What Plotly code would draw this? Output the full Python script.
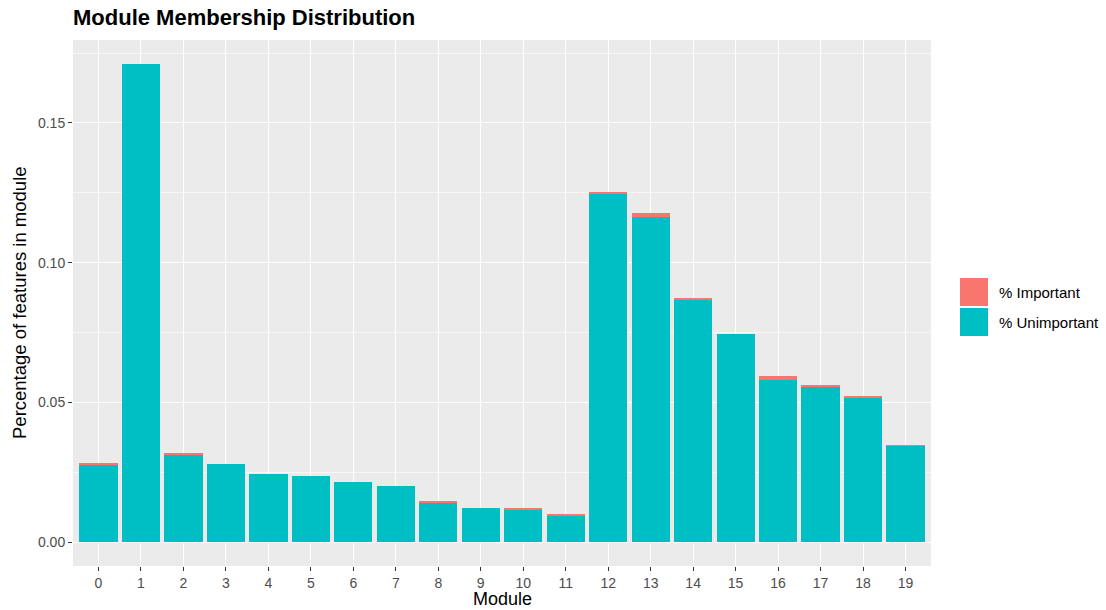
import plotly.graph_objects as go

modules = [str(i) for i in range(20)]
total = [0.0284, 0.1711, 0.0316, 0.0281, 0.0245, 0.0238, 0.0216, 0.0202, 0.0148, 0.0123,
         0.0120, 0.0098, 0.1251, 0.1178, 0.0871, 0.0745, 0.0595, 0.0563, 0.0520, 0.0345]
important = [0.0005, 0.0, 0.0002, 0.0, 0.0, 0.0, 0.0, 0.0, 0.0005, 0.0,
             0.0004, 0.0004, 0.0005, 0.0013, 0.0004, 0.0, 0.0014, 0.0005, 0.0004, 0.0001]
unimportant = [round(t - i, 5) for t, i in zip(total, important)]

RED = "#F8766D"
TEAL = "#00BFC4"
FONT = "Liberation Sans, Arial, sans-serif"

W, H = 1106, 610
ML, MR, MT, MB = 73, 175, 40, 44
PW, PH = W - ML - MR, H - MT - MB

fig = go.Figure()
fig.add_bar(x=modules, y=unimportant, name="% Unimportant", marker_color=TEAL,
            marker_line_width=0, width=0.9, showlegend=False)
fig.add_bar(x=modules, y=important, name="% Important", marker_color=RED,
            marker_line_width=0, width=0.9, showlegend=False)

ymax = max(total)
fig.update_layout(
    barmode="stack",
    width=W, height=H,
    margin=dict(l=ML, r=MR, t=MT, b=MB),
    paper_bgcolor="white",
    plot_bgcolor="#EBEBEB",
    font=dict(family=FONT, color="#4D4D4D", size=14),
    title=dict(text="<b>Module Membership Distribution</b>", x=73/W, xanchor="left",
               y=1-17/H, yanchor="middle", font=dict(size=22, color="black", family=FONT)),
    xaxis=dict(type="category", range=[-0.6, 19.6], showgrid=True, gridcolor="white", gridwidth=1.4,
               ticks="outside", ticklen=4, tickcolor="#333333", tickwidth=1,
               tickfont=dict(size=14, color="#4D4D4D"), automargin=False,
               zeroline=False, showline=False),
    yaxis=dict(range=[-0.05*ymax, 1.05*ymax], tickvals=[0, 0.05, 0.10, 0.15],
               ticktext=["0.00", "0.05", "0.10", "0.15"],
               showgrid=True, gridcolor="white", gridwidth=1.4,
               minor=dict(tickvals=[0.025, 0.075, 0.125, 0.175], showgrid=True,
                          gridcolor="#F7F7F7", gridwidth=0.7, ticks=""),
               ticks="outside", ticklen=4, tickcolor="#333333", tickwidth=1,
               tickfont=dict(size=14, color="#4D4D4D"), automargin=False,
               zeroline=False, showline=False),
)

def fx(x): return (x - ML) / PW
def fy(y): return (H - MB - y) / PH

# Axis titles
fig.add_annotation(xref="paper", yref="paper", x=fx(ML + PW/2), y=fy(599), text="Module",
                   showarrow=False, xanchor="center", yanchor="middle",
                   font=dict(size=18, color="black", family=FONT))
fig.add_annotation(xref="paper", yref="paper", x=fx(19), y=fy(MT + PH/2),
                   text="Percentage of features in module", textangle=-90,
                   showarrow=False, xanchor="center", yanchor="middle",
                   font=dict(size=18.5, color="black", family=FONT))

# Custom ggplot-style legend
for i, (lab, col) in enumerate([("% Important", RED), ("% Unimportant", TEAL)]):
    y0 = 278 + i * 30
    fig.add_shape(type="rect", xref="paper", yref="paper",
                  x0=fx(960), x1=fx(988), y0=fy(y0 + 28), y1=fy(y0),
                  fillcolor=col, line_width=0)
    fig.add_annotation(xref="paper", yref="paper", x=fx(997), y=fy(y0 + 14), text=lab,
                       showarrow=False, xanchor="left", yanchor="middle",
                       font=dict(size=15, color="black", family=FONT))

fig.write_html("out.html", config={"displayModeBar": False},
               post_script="document.body.style.margin='0';document.body.style.overflow='hidden';")
